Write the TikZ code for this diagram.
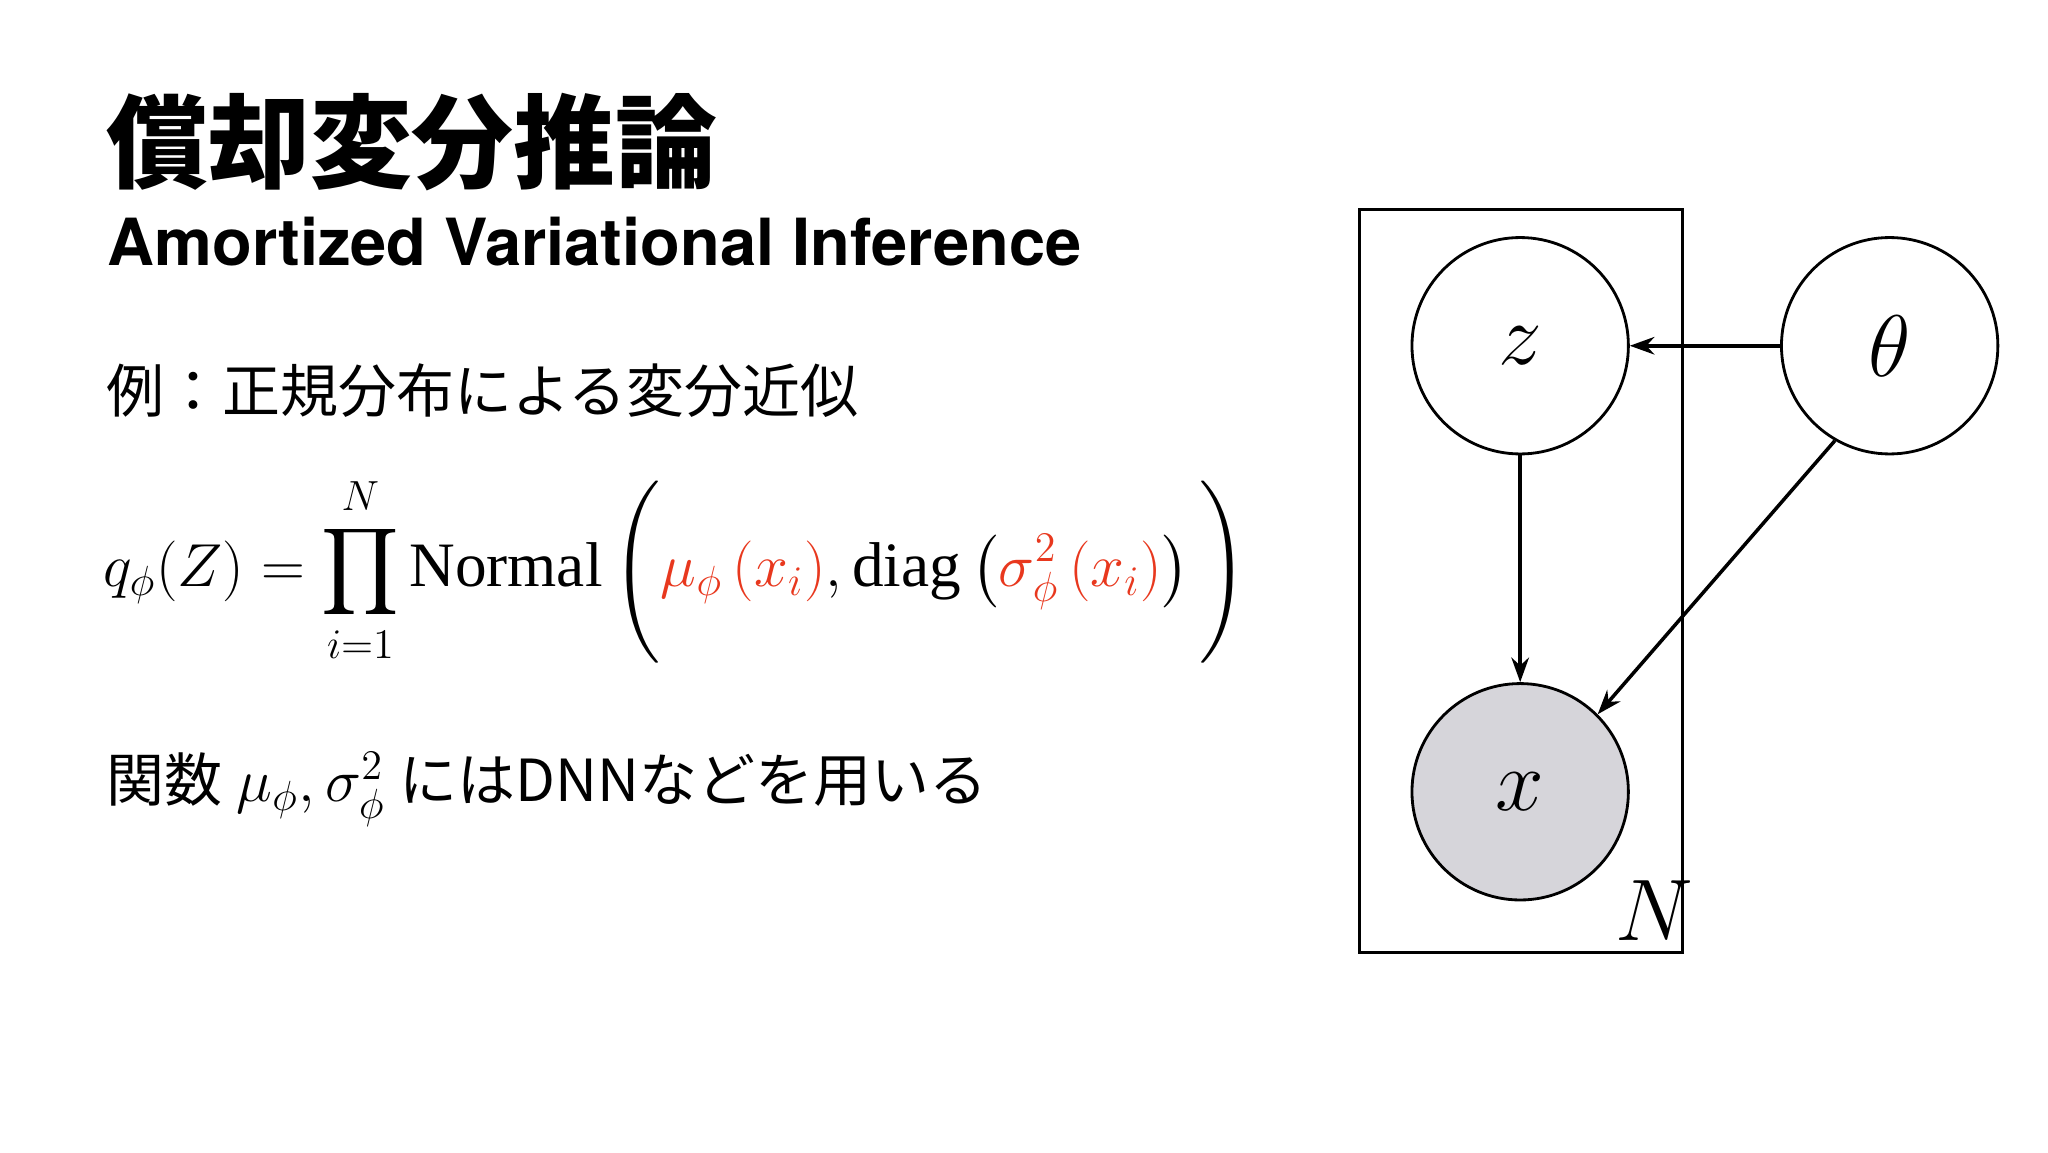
\documentclass[tikz,border=0pt]{standalone}
\usepackage{amsmath}
\usepackage{fontspec}
\usetikzlibrary{arrows.meta}
\setmainfont{Liberation Serif}
\newfontfamily\jp{Noto Sans CJK JP}
\newfontfamily\heb{TeX Gyre Heros}
\definecolor{redf}{HTML}{E8381E}
\definecolor{obs}{HTML}{D6D5DA}
\begin{document}
\begin{tikzpicture}[x=0.013196cm,y=-0.013196cm,
  var/.style={circle,draw,line width=0.8pt,minimum size={164*0.013196cm},inner sep=0pt,font=\fontsize{26}{30}\selectfont},
  arr/.style={-{Stealth[length=7pt,width=5pt]},line width=1pt}]
\useasboundingbox (0,0) rectangle (1552,873);
\node[anchor=west,inner sep=0pt] (title) at (80,108) {\fontsize{29}{34}\selectfont\bfseries\jp 償却変分推論};
\node[anchor=west,inner sep=0pt] (sub) at (81,183) {\fontsize{18.5}{22}\selectfont\bfseries\heb Amortized Variational Inference};
\node[anchor=west,inner sep=0pt] (ex) at (80,296) {\fontsize{16.5}{20}\selectfont\jp 例：正規分布による変分近似};
\node[anchor=west,inner sep=0pt] (eq) at (78,432) {\fontsize{18}{22}\selectfont
 $q_\phi(Z)=\displaystyle\prod_{i=1}^{N}\mathrm{Normal}\left(\textcolor{redf}{\mu_\phi\left(x_i\right)},\mathrm{diag}\left(\textcolor{redf}{\sigma^2_\phi\left(x_i\right)}\right)\vphantom{\prod_{i=1}^N}\right)$};
\node[anchor=west,inner sep=0pt] (fn) at (80,598) {\fontsize{16.5}{20}\selectfont{\jp 関数} $\mu_\phi,\sigma^2_\phi$ {\jp にはDNNなどを用いる}};
\node[draw,line width=0.8pt,minimum width={245*0.013196cm},minimum height={563*0.013196cm},inner sep=0pt] (plate) at (1152.5,440.5) {};
\node[var] (z) at (1152,262) {$z$};
\node[var] (t) at (1432,262) {$\theta$};
\node[var,fill=obs] (x) at (1152,600) {$x$};
\node[font=\fontsize{26}{30}\selectfont] (N) at (1254,690) {$N$};
\draw[arr] (t) -- (z);
\draw[arr] (z) -- (x);
\draw[arr] (t.-120) -- (x.45);
\end{tikzpicture}
\end{document}
